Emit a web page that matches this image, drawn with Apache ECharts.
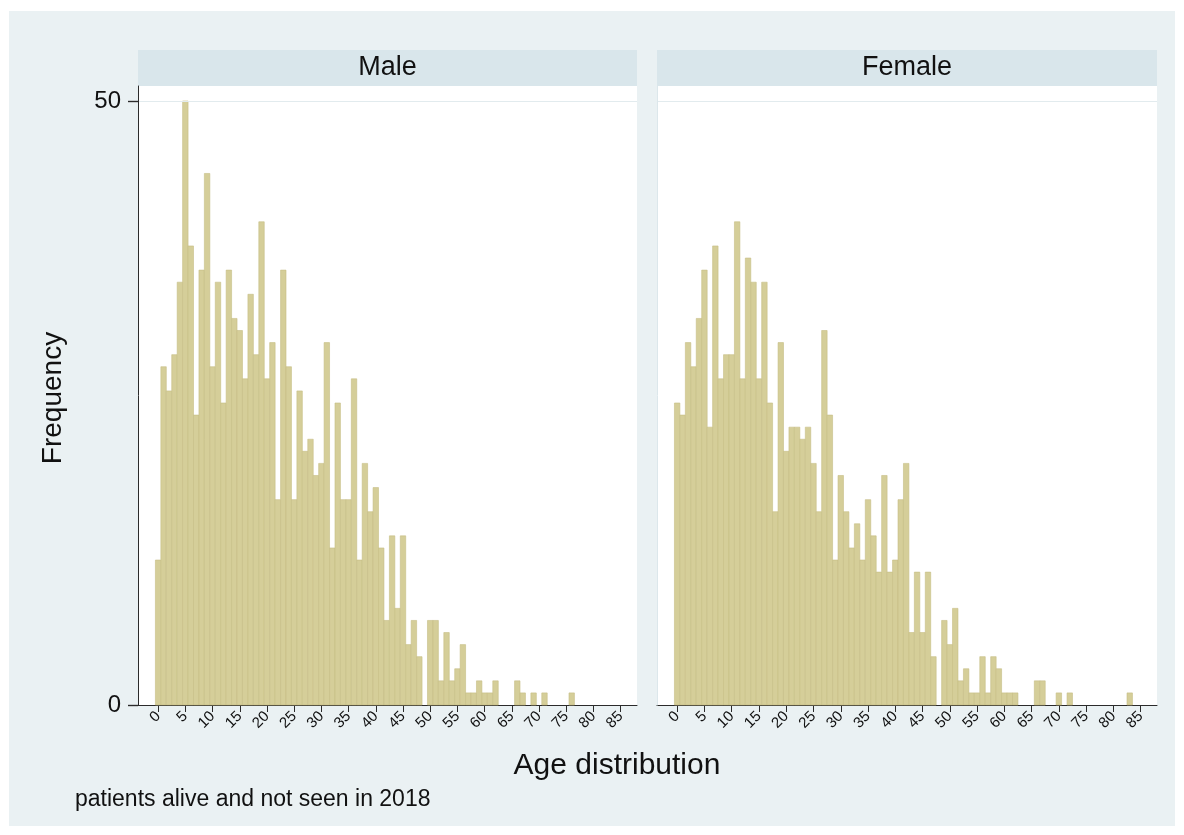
<!DOCTYPE html>
<html>
<head>
<meta charset="utf-8">
<script src="https://cdn.jsdelivr.net/npm/echarts@6/dist/echarts.min.js"></script>
<style>
  html, body { margin: 0; padding: 0; background: #ffffff; }
  #page { position: relative; width: 1184px; height: 835px; background: #ffffff; overflow: hidden; }
  #chart { position: absolute; left: 9px; top: 11px; width: 1166px; height: 815px; }
</style>
</head>
<body>
<div id="page"><div id="chart"></div></div>
<script>
// ---- data (frequency by single year of age, starting at age 0) ----
const panelNames = ['Male', 'Female'];
const maleCounts = [
  12, 28, 26, 29, 35, 50, 38, 24, 36, 44,
  28, 35, 25, 36, 32, 31, 27, 34, 29, 40,
  27, 30, 17, 36, 28, 17, 26, 21, 22, 19,
  20, 30, 13, 25, 17, 17, 27, 12, 20, 16,
  18, 13, 7, 14, 8, 14, 5, 7, 4, 0,
  7, 7, 2, 6, 2, 3, 5, 1, 1, 2,
  1, 1, 2, 0, 0, 0, 2, 1, 0, 1,
  0, 1, 0, 0, 0, 0, 1
];
const femaleCounts = [
  25, 24, 30, 28, 32, 36, 23, 38, 27, 29,
  29, 40, 27, 37, 35, 27, 35, 25, 16, 30,
  21, 23, 23, 22, 23, 20, 16, 31, 24, 12,
  19, 16, 13, 15, 12, 17, 14, 11, 19, 11,
  12, 17, 20, 6, 11, 6, 11, 4, 0, 7,
  5, 8, 2, 3, 1, 1, 4, 1, 4, 3,
  1, 1, 1, 0, 0, 0, 2, 2, 0, 0,
  1, 0, 1, 0, 0, 0, 0, 0, 0, 0,
  0, 0, 0, 1
];
const xTicks = [0, 5, 10, 15, 20, 25, 30, 35, 40, 45, 50, 55, 60, 65, 70, 75, 80, 85];
const yTicks = [0, 50];
const xTitle = 'Age distribution';
const yTitle = 'Frequency';
const noteText = 'patients alive and not seen in 2018';

// ---- styling ----
const FONT = '"Liberation Sans", Arial, Helvetica, sans-serif';
const BG = '#EAF1F3';
const STRIP = '#D9E6EB';
const BAR_FILL = '#D5CE99';
const BAR_EDGE = '#C6BE84';
const AXIS = '#2b2b2b';
const X_MIN = -3.7, X_MAX = 88;
const Y_MAX = 51.24;
const Y_TICK_LEN = 10;
const OX = 9, OY = 11; // chart container offset inside the page

const grids = [
  { left: 138 - OX, top: 86 - OY, width: 499, height: 619 },
  { left: 657 - OX, top: 86 - OY, width: 500, height: 619 }
];

function toPairs(counts) {
  const out = [];
  counts.forEach((c, age) => { if (c > 0) out.push([age, c]); });
  return out;
}

function renderBar(params, api) {
  const x = api.value(0), y = api.value(1);
  const p0 = api.coord([x - 0.5, y]);
  const p1 = api.coord([x + 0.5, 0]);
  return {
    type: 'rect',
    shape: { x: p0[0], y: p0[1], width: p1[0] - p0[0], height: p1[1] - p0[1] },
    style: { fill: BAR_FILL, stroke: BAR_EDGE, lineWidth: 0.6 }
  };
}

function renderYTick(params, api) {
  const p = api.coord([api.value(0), api.value(1)]);
  const y = Math.round(p[1]) + 0.5;
  return {
    type: 'line',
    shape: { x1: p[0] - Y_TICK_LEN, y1: y, x2: p[0], y2: y },
    style: { stroke: AXIS, lineWidth: 1.2 }
  };
}

const chart = echarts.init(document.getElementById('chart'), null, { renderer: 'canvas' });

const xAxes = grids.map((g, i) => ({
  type: 'value', gridIndex: i, min: X_MIN, max: X_MAX,
  axisLine: { show: true, onZero: false, lineStyle: { color: AXIS, width: 1 } },
  axisTick: { show: true, customValues: xTicks, length: 7, lineStyle: { color: AXIS, width: 1 } },
  axisLabel: { customValues: xTicks, rotate: 45, fontSize: 15, color: '#111', fontFamily: FONT, margin: 9 },
  splitLine: { show: false }
}));

const yAxes = grids.map((g, i) => ({
  type: 'value', gridIndex: i, min: 0, max: Y_MAX,
  axisLine: { show: true, onZero: false, lineStyle: { color: i === 0 ? AXIS : '#DCE7EB', width: 1 } },
  axisTick: { show: i === 0, customValues: yTicks, length: Y_TICK_LEN, lineStyle: { color: AXIS, width: 1.2 } },
  axisLabel: { show: i === 0, customValues: yTicks, fontSize: 24, color: '#111', fontFamily: FONT, margin: 17 },
  splitLine: { show: false },
  z: 10
}));

const series = [maleCounts, femaleCounts].map((counts, i) => ({
  type: 'custom',
  xAxisIndex: i, yAxisIndex: i,
  renderItem: renderBar,
  data: toPairs(counts),
  silent: true,
  markLine: {
    silent: true, symbol: 'none', label: { show: false },
    lineStyle: { color: '#E2EBEE', width: 1.2, type: 'solid' },
    data: [{ yAxis: yTicks[1] }]
  },
  z: 3
}));
// y-axis tick marks of the left panel, on their own top layer
series.push({
  type: 'custom', xAxisIndex: 0, yAxisIndex: 0, clip: false, silent: true,
  zlevel: 1, z: 20,
  renderItem: renderYTick,
  data: yTicks.map(v => [X_MIN, v])
});

const graphics = [];
grids.forEach((g, i) => {
  graphics.push({ type: 'rect', z: -50, silent: true, shape: { x: g.left, y: 50 - OY, width: g.width, height: 36 }, style: { fill: STRIP } });
  graphics.push({ type: 'text', z: 5, x: g.left + g.width / 2, y: 68 - OY,
    style: { text: panelNames[i], font: '27px ' + FONT, fill: '#111', align: 'center', verticalAlign: 'middle' } });
});
graphics.push({ type: 'text', z: 5, x: 53 - OX, y: 398 - OY, rotation: Math.PI / 2,
  style: { text: yTitle, font: '28px ' + FONT, fill: '#111', align: 'center', verticalAlign: 'middle' } });
graphics.push({ type: 'text', z: 5, x: 617 - OX, y: 766 - OY,
  style: { text: xTitle, font: '30px ' + FONT, fill: '#111', align: 'center', verticalAlign: 'middle' } });
graphics.push({ type: 'text', z: 5, x: 75 - OX, y: 800 - OY,
  style: { text: noteText, font: '23px ' + FONT, fill: '#111', align: 'left', verticalAlign: 'middle' } });

chart.setOption({
  backgroundColor: BG,
  animation: false,
  grid: grids.map(g => Object.assign({ show: true, backgroundColor: '#ffffff', borderWidth: 0, containLabel: false }, g)),
  xAxis: xAxes,
  yAxis: yAxes,
  series: series,
  graphic: { elements: graphics }
});
</script>
</body>
</html>
